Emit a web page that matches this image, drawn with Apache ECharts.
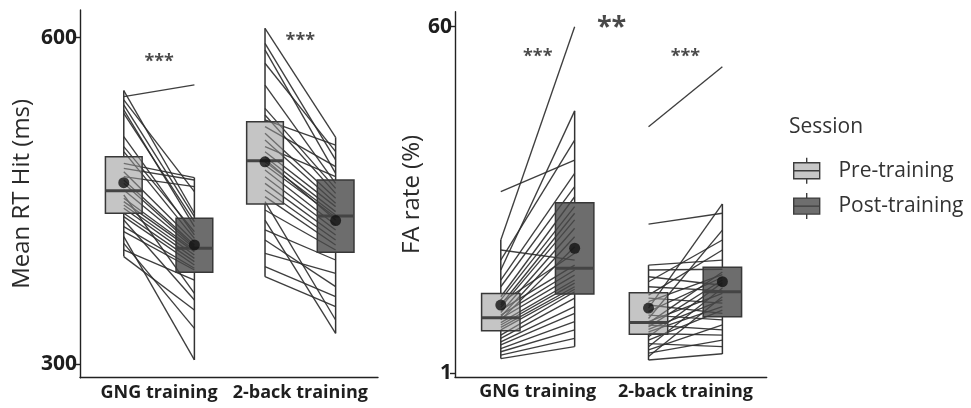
<!DOCTYPE html>
<html>
<head>
<meta charset="utf-8">
<script src="https://cdn.jsdelivr.net/npm/echarts@6/dist/echarts.min.js"></script>
<style>html,body{margin:0;padding:0;background:#fff}#c{width:971px;height:408px}</style>
</head>
<body>
<div id="c"></div>
<script>
// ---------- data ----------
const categories = ['GNG training', '2-back training'];
const sessions = ['Pre-training', 'Post-training'];
const rtTicks = [300, 600];
const faTicks = [1, 60];

// Mean RT Hit (ms), one value per participant
const rtGngPre  = [545.8,551.4,542.8,538.2,533.6,530.5,509.1,499.9,495.3,484.6,480.0,476.9,472.4,469.3,466.2,460.1,455.5,452.5,449.4,446.3,443.3,438.7,435.6,432.5,426.4,421.8,417.2,411.1,405.0,398.9];
const rtGngPost = [556.6,438.7,458.6,435.6,426.4,431.0,418.8,421.8,415.7,471.4,469.3,412.6,463.2,409.6,408.0,406.5,365.2,405.0,403.5,400.4,397.3,394.3,391.2,359.1,388.2,386.6,304.0,333.0,377.4,349.9];
const rt2bPre   = [608.6,594.8,588.7,576.5,556.5,535.1,529.0,524.4,518.3,512.2,506.0,499.9,495.3,490.7,488.3,486.1,483.1,478.5,472.3,466.2,460.1,454.0,449.4,441.7,432.5,423.4,414.2,401.9,389.7,380.5];
const rt2bPost  = [508.5,487.7,475.4,495.3,466.2,461.6,457.0,501.4,481.5,452.4,447.9,472.3,444.8,440.2,432.5,437.1,435.0,428.0,423.4,418.8,414.2,409.6,340.7,405.0,328.4,395.8,371.3,383.6,362.1,352.9];

// FA rate (%), one value per participant
const faGngPre  = [8.55,4.83,4.29,3.39,3.81,3.01,2.78,2.47,2.38,2.30,2.24,2.18,2.11,2.05,1.99,1.95,1.91,1.88,1.82,1.77,1.72,1.67,1.57,1.51,1.45,1.40,1.34,1.29,1.24,1.19];
const faGngPost = [12.4,60.0,3.81,22.2,15.7,10.6,9.06,8.05,7.16,4.13,6.62,6.12,3.59,5.55,3.39,5.02,3.19,4.46,3.01,2.90,2.78,2.70,2.62,2.43,2.20,2.03,1.84,1.67,1.51,1.37];
const fa2bPre   = [18.4,5.83,3.59,3.39,3.13,2.95,2.78,2.52,2.43,2.33,2.24,2.16,2.07,1.99,1.91,1.84,1.81,1.77,1.73,1.68,1.63,1.60,1.54,1.48,1.42,1.37,1.32,1.27,1.22,1.17];
const fa2bPost  = [37.4,6.62,3.81,3.42,2.83,4.83,2.65,4.29,2.29,3.21,2.03,7.39,3.11,1.88,5.43,2.57,3.31,1.67,3.01,2.38,2.20,1.57,2.92,2.11,1.37,2.74,1.77,1.48,2.47,1.26];

// box statistics [whisker low, Q1, median, Q3, whisker high] per category
const rtBoxPre  = [[398.9,438.7,459.5,490.7,551.4],[380.5,447.3,487.0,522.8,608.6]];
const rtBoxPost = [[304.0,384.5,406.6,434.1,471.4],[328.4,402.9,436.2,469.3,508.5]];
const faBoxPre  = [[1.19,1.654,1.93,2.57,4.83],[1.17,1.585,1.82,2.59,3.59]];
const faBoxPost = [[1.37,2.55,3.46,7.5,22.2],[1.256,1.95,2.62,3.50,7.39]];
// means per category
const rtMeanPre  = [466.8, 486.0];
const rtMeanPost = [409.6, 432.0];
const faMeanPre  = [2.24, 2.16];
const faMeanPost = [4.38, 2.95];

// significance annotations
const rtSig = ['***', '***'];
const faSig = ['***', '***'];
const rtSigY = [582, 602];
const faSigY = [44.5, 44.5];
const faBetween = '**';
const faBetweenY = 64;

// ---------- build ----------
const OFF = 0.25, HW = 0.13;
const FONT = '"Open Sans", "DejaVu Sans", sans-serif';
const LINE_COL = '#2e2e2e';

function pairs(pre, post, c) {
  return pre.map((v, i) => ({ coords: [[c + 1 - OFF, v], [c + 1 + OFF, post[i]]] }));
}
function boxData(stats, off) {
  return stats.map((s, c) => [c + 1 + off].concat(s));
}
function meanData(m, off) {
  return m.map((v, c) => [c + 1 + off, v]);
}
function makeRender(fill) {
  return function (params, api) {
    const x = api.value(0);
    const lo = api.value(1), q1 = api.value(2), md = api.value(3), q3 = api.value(4), hi = api.value(5);
    const pLo = api.coord([x, lo]), pHi = api.coord([x, hi]);
    const pQ1 = api.coord([x, q1]), pQ3 = api.coord([x, q3]);
    const l = api.coord([x - HW, md]), r = api.coord([x + HW, md]);
    const bl = api.coord([x - HW, q1]), tr = api.coord([x + HW, q3]);
    const stroke = { stroke: '#333333', lineWidth: 1.5 };
    return {
      type: 'group',
      children: [
        { type: 'line', shape: { x1: pHi[0], y1: pHi[1], x2: pQ3[0], y2: pQ3[1] }, style: stroke },
        { type: 'line', shape: { x1: pQ1[0], y1: pQ1[1], x2: pLo[0], y2: pLo[1] }, style: stroke },
        { type: 'rect', shape: { x: bl[0], y: tr[1], width: tr[0] - bl[0], height: bl[1] - tr[1] },
          style: { fill: fill, stroke: '#383838', lineWidth: 1.5 } },
        { type: 'line', shape: { x1: l[0], y1: l[1], x2: r[0], y2: r[1] }, style: { stroke: '#444444', lineWidth: 3 } }
      ]
    };
  };
}
const PRE_FILL = 'rgba(150,150,150,0.55)';
const POST_FILL = 'rgba(72,72,72,0.8)';

function panelSeries(gi, preArrs, postArrs, boxPre, boxPost, meanPre, meanPost, sig, sigY) {
  const lineData = pairs(preArrs[0], postArrs[0], 0).concat(pairs(preArrs[1], postArrs[1], 1));
  return [
    { type: 'lines', coordinateSystem: 'cartesian2d', xAxisIndex: gi, yAxisIndex: gi, z: 1,
      polyline: false, silent: true, data: lineData,
      lineStyle: { color: LINE_COL, width: 1.35, opacity: 0.92 } },
    { name: sessions[0], type: 'custom', xAxisIndex: gi, yAxisIndex: gi, z: 2,
      itemStyle: { color: '#c7c7c7', borderColor: '#3d3d3d', borderWidth: 1.4 },
      renderItem: makeRender(PRE_FILL), data: boxData(boxPre, -OFF), encode: { x: 0, y: [1, 2, 3, 4, 5] } },
    { name: sessions[1], type: 'custom', xAxisIndex: gi, yAxisIndex: gi, z: 2,
      itemStyle: { color: '#6e6e6e', borderColor: '#3d3d3d', borderWidth: 1.4 },
      renderItem: makeRender(POST_FILL), data: boxData(boxPost, OFF), encode: { x: 0, y: [1, 2, 3, 4, 5] } },
    { type: 'scatter', xAxisIndex: gi, yAxisIndex: gi, z: 3, symbolSize: 11, silent: true,
      itemStyle: { color: '#111111' }, data: meanData(meanPre, -OFF).concat(meanData(meanPost, OFF)) },
    { type: 'scatter', xAxisIndex: gi, yAxisIndex: gi, z: 4, symbolSize: 0, silent: true,
      data: sig.map((s, c) => ({ value: [c + 1, sigY[c]], label: { formatter: s } })),
      label: { show: true, position: 'inside', offset: [0, 5], color: '#1a1a1a', fontSize: 18, fontWeight: 'bold', fontFamily: FONT } }
  ];
}

const series = []
  .concat(panelSeries(0, [rtGngPre, rt2bPre], [rtGngPost, rt2bPost], rtBoxPre, rtBoxPost, rtMeanPre, rtMeanPost, rtSig, rtSigY))
  .concat(panelSeries(1, [faGngPre, fa2bPre], [faGngPost, fa2bPost], faBoxPre, faBoxPost, faMeanPre, faMeanPost, faSig, faSigY));
series.push({ type: 'scatter', xAxisIndex: 1, yAxisIndex: 1, z: 4, symbolSize: 0, silent: true,
  data: [{ value: [1.5, faBetweenY], label: { formatter: faBetween } }],
  label: { show: true, position: 'inside', offset: [0, 6], color: '#1a1a1a', fontSize: 27, fontWeight: 'bold', fontFamily: FONT } });

function xAxis(gi) {
  return {
    type: 'value', gridIndex: gi, min: 0.44, max: 2.55,
    axisLine: { show: true, lineStyle: { color: '#222', width: 1.4 } },
    axisTick: { show: false }, splitLine: { show: false },
    axisLabel: { customValues: [1, 2], formatter: v => categories[Math.round(v) - 1], margin: 6,
      color: '#1e1e1e', fontSize: 18, fontWeight: 'bold', fontFamily: FONT }
  };
}
function yAxisCommon(extra) {
  return Object.assign({
    axisLine: { show: true, lineStyle: { color: '#222', width: 1.4 } },
    splitLine: { show: false },
    nameLocation: 'middle',
    nameTextStyle: { color: '#2a2a2a', fontSize: 24, fontFamily: FONT }
  }, extra);
}

const option = {
  animation: false,
  backgroundColor: '#ffffff',
  textStyle: { fontFamily: FONT },
  grid: [
    { left: 80, top: 10, width: 298, height: 367.7 },
    { left: 455, top: 11.7, width: 311.7, height: 365.6 }
  ],
  xAxis: [xAxis(0), xAxis(1)],
  yAxis: [
    yAxisCommon({ type: 'value', gridIndex: 0, min: 287.7, max: 625.4, name: 'Mean RT Hit (ms)', nameGap: 46,
      axisTick: { show: true, length: 5, customValues: rtTicks, lineStyle: { color: '#222', width: 1.4 } },
      axisLabel: { customValues: rtTicks, margin: 3, color: '#1e1e1e', fontSize: 21, fontWeight: 'bold', fontFamily: FONT } }),
    yAxisCommon({ type: 'log', logBase: 10, gridIndex: 1, min: 0.954, max: 71.6, name: 'FA rate (%)', nameGap: 31,
      axisTick: { show: true, length: 5, customValues: faTicks, lineStyle: { color: '#222', width: 1.4 } },
      axisLabel: { customValues: faTicks, margin: 3, color: '#1e1e1e', fontSize: 21, fontWeight: 'bold', fontFamily: FONT } })
  ],
  title: { text: 'Session', left: 789, top: 117, padding: 0,
    textStyle: { fontSize: 21, fontWeight: 'normal', color: '#333', fontFamily: FONT } },
  legend: {
    data: sessions, orient: 'vertical', left: 793, top: 157, padding: 0,
    itemWidth: 40, itemHeight: 26, itemGap: 8,
    icon: 'path://M13.5,0L13.5,5M0.5,5L26.5,5L26.5,21L0.5,21ZM0.5,13L26.5,13M13.5,21L13.5,26M40,26',
    itemStyle: { borderColor: '#3d3d3d', borderWidth: 1.4 },
    textStyle: { fontSize: 21, color: '#333', fontFamily: FONT },
    selectedMode: false
  },
  series: series
};

const chart = echarts.init(document.getElementById('c'), null, { renderer: 'canvas' });
chart.setOption(option);
</script>
</body>
</html>
